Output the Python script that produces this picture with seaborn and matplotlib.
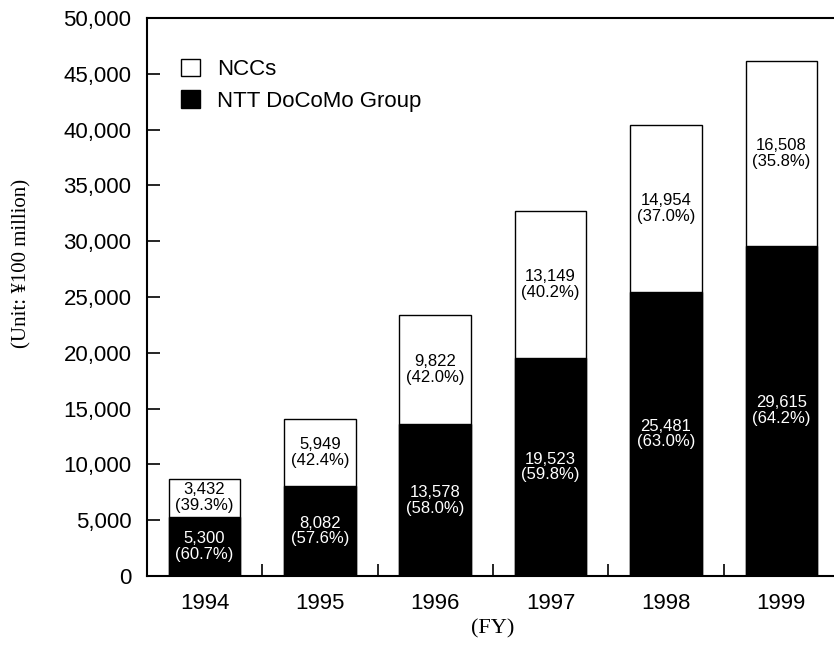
import pandas as pd
import matplotlib
matplotlib.use('Agg')
import matplotlib.pyplot as plt
from matplotlib.patches import Patch
from matplotlib.ticker import FixedLocator, FuncFormatter
import seaborn as sns

years = ['1994', '1995', '1996', '1997', '1998', '1999']
ntt = [5300, 8082, 13578, 19523, 25481, 29615]
nccs = [3432, 5949, 9822, 13149, 14954, 16508]
ntt_pct = ['60.7%', '57.6%', '58.0%', '59.8%', '63.0%', '64.2%']
ncc_pct = ['39.3%', '42.4%', '42.0%', '40.2%', '37.0%', '35.8%']


def _montar_dados():
    df = pd.DataFrame({'year': years, 'ntt': ntt, 'nccs': nccs})
    df['total'] = df['ntt'] + df['nccs']
    return df


if __name__ == '__main__':
    df = _montar_dados()
    sns.set_style('ticks')
    plt.rcParams['font.family'] = ['Liberation Sans', 'DejaVu Sans']
    for k in ['text.color', 'axes.labelcolor', 'xtick.color', 'ytick.color', 'axes.edgecolor']:
        plt.rcParams[k] = 'black'

    fig = plt.figure(figsize=(8.34, 6.45), dpi=100)
    ax = fig.add_axes([0.176, 0.107, 0.83, 0.865])

    sns.barplot(x='year', y='total', data=df, color='white', edgecolor='black',
                linewidth=1.0, width=0.62, saturation=1, ax=ax)
    sns.barplot(x='year', y='ntt', data=df, color='black', edgecolor='black',
                linewidth=1.0, width=0.62, saturation=1, ax=ax)

    for i, row in df.iterrows():
        ax.text(i, row['ntt'] / 2, f"{row['ntt']:,}\n({ntt_pct[i]})", color='white',
                ha='center', va='center', fontsize=12, linespacing=1.05)
        ax.text(i, row['ntt'] + row['nccs'] / 2, f"{row['nccs']:,}\n({ncc_pct[i]})",
                color='black', ha='center', va='center', fontsize=12, linespacing=1.05)

    ax.set_xlim(-0.5, 5.5)
    ax.set_ylim(0, 50000)
    ax.set_yticks(range(0, 50001, 5000))
    ax.yaxis.set_major_formatter(FuncFormatter(lambda v, p: f'{int(v):,}'))
    ax.tick_params(axis='y', direction='in', length=9, width=1.2, labelsize=16, pad=11)
    ax.tick_params(axis='x', which='major', length=0, labelsize=16, pad=12)
    ax.xaxis.set_minor_locator(FixedLocator([0.5, 1.5, 2.5, 3.5, 4.5]))
    ax.tick_params(axis='x', which='minor', direction='in', length=9, width=1.2)

    for s in ['top', 'left', 'bottom']:
        ax.spines[s].set_linewidth(1.5)
    ax.spines['right'].set_visible(False)

    ax.set_xlabel('(FY)', family='Liberation Serif', fontsize=16, labelpad=4)
    ax.set_ylabel('(Unit: ¥100 million)', family='Liberation Serif', fontsize=15)
    ax.yaxis.set_label_coords(-0.166, 0.56)

    handles = [Patch(facecolor='white', edgecolor='black', label='NCCs'),
               Patch(facecolor='black', edgecolor='black', label='NTT DoCoMo Group')]
    ax.legend(handles=handles, loc='upper left', bbox_to_anchor=(0.02, 0.963), frameon=False,
              fontsize=16, handlelength=0.85, handleheight=0.85, handletextpad=0.8,
              labelspacing=0.45)

    plt.savefig('out.png', dpi=100)
